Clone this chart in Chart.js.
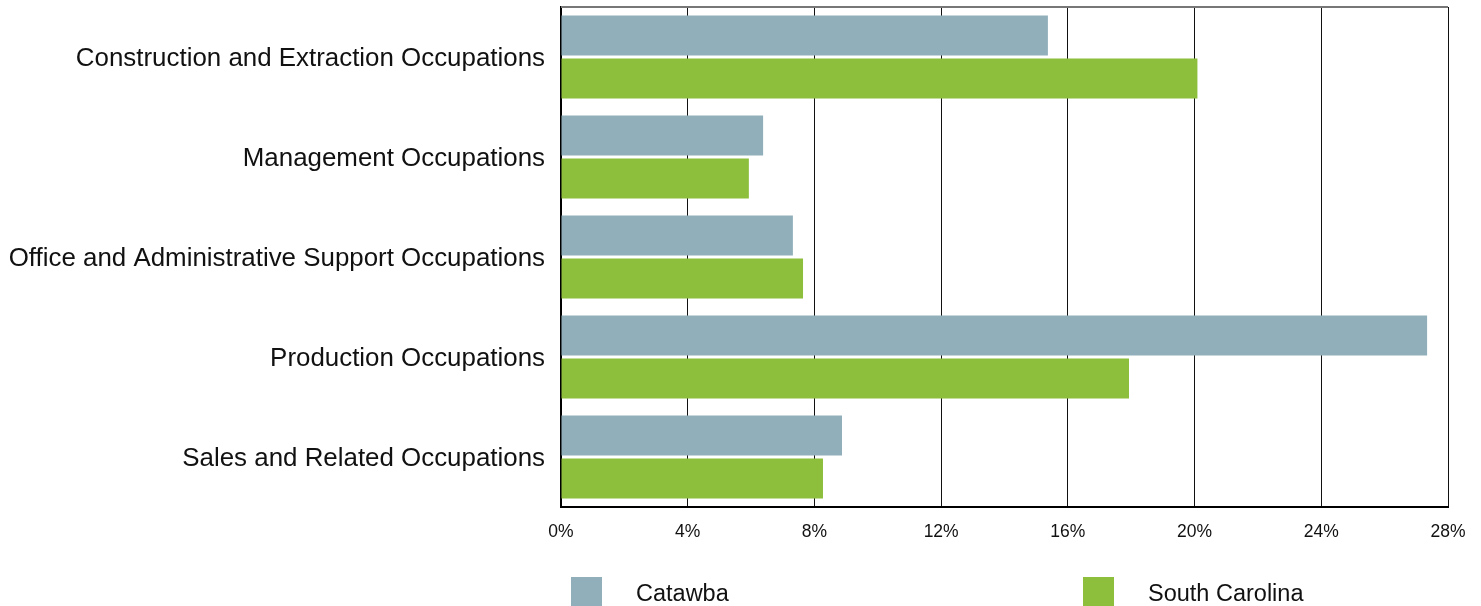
<!DOCTYPE html>
<html>
<head>
<meta charset="utf-8">
<script src="https://cdn.jsdelivr.net/npm/chart.js@4.4.0/dist/chart.umd.min.js"></script>
<style>
html,body{margin:0;padding:0;background:#fff;}
#wrap{width:1481px;height:606px;position:relative;}
</style>
</head>
<body>
<div id="wrap"><canvas id="c" width="1481" height="606"></canvas></div>
<script>
const categories = [
  "Construction and Extraction Occupations",
  "Management Occupations",
  "Office and Administrative Support Occupations",
  "Production Occupations",
  "Sales and Related Occupations"
];
const seriesNames = ["Catawba", "South Carolina"];
const catawba = [15.37, 6.38, 7.32, 27.34, 8.87];
const southCarolina = [20.09, 5.93, 7.64, 17.93, 8.27];
const xTicks = [0, 4, 8, 12, 16, 20, 24, 28];
const colors = ["#90AFBA", "#8DBE3C"];

const FONT = "'Liberation Sans', Arial, sans-serif";

const legendPlugin = {
  id: 'customLegend',
  afterDraw(chart) {
    const ctx = chart.ctx;
    const positions = [571, 1083];
    ctx.save();
    chart.data.datasets.forEach((ds, i) => {
      const x = positions[i];
      ctx.fillStyle = ds.backgroundColor;
      ctx.fillRect(x, 577, 31, 31);
      ctx.fillStyle = '#111';
      ctx.font = "23.5px " + FONT;
      ctx.textBaseline = 'alphabetic';
      ctx.textAlign = 'left';
      ctx.fillText(ds.label, x + 65, 601);
    });
    const a = chart.chartArea;
    ctx.strokeStyle = '#777';
    ctx.lineWidth = 2;
    ctx.beginPath();
    ctx.moveTo(a.left, a.top);
    ctx.lineTo(a.right, a.top);
    ctx.stroke();
    ctx.restore();
  }
};

new Chart(document.getElementById('c'), {
  type: 'bar',
  data: {
    labels: categories,
    datasets: [
      { label: seriesNames[0], data: catawba, backgroundColor: colors[0] },
      { label: seriesNames[1], data: southCarolina, backgroundColor: colors[1] }
    ]
  },
  options: {
    indexAxis: 'y',
    responsive: false,
    animation: false,
    maintainAspectRatio: false,
    layout: { padding: { left: 0, right: 33, top: 7, bottom: 59 } },
    datasets: { bar: { categoryPercentage: 0.86, barPercentage: 0.93 } },
    plugins: { legend: { display: false }, tooltip: { enabled: false } },
    scales: {
      x: {
        min: 0, max: 28,
        afterBuildTicks(axis) { axis.ticks = xTicks.map(v => ({ value: v })); },
        ticks: {
          callback: v => v + '%',
          font: { family: FONT, size: 17.5 },
          color: '#111',
          padding: 15,
          maxRotation: 0
        },
        grid: { color: '#111', lineWidth: 1, drawTicks: false, tickLength: 0 },
        border: { display: true, color: '#000', width: 2 },
        afterFit(axis) { axis.height = 40; axis.paddingLeft = 0; axis.paddingRight = 0; }
      },
      y: {
        ticks: {
          font: { family: FONT, size: 25.9 },
          color: '#111',
          padding: 16,
          labelOffset: 2
        },
        grid: { display: false, drawTicks: false },
        border: { display: true, color: '#000', width: 2 },
        afterFit(axis) { axis.width = 561; axis.paddingTop = 0; axis.paddingBottom = 0; }
      }
    }
  },
  plugins: [legendPlugin]
});
</script>
</body>
</html>
